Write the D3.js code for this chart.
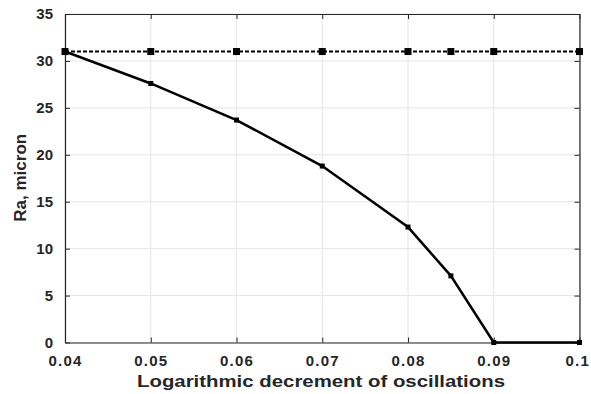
<!DOCTYPE html>
<html><head><meta charset="utf-8">
<script src="https://cdn.jsdelivr.net/npm/d3@7"></script>
<style>body{margin:0;background:#fff}svg{display:block}text{font-family:"Liberation Sans",Arial,sans-serif;font-weight:bold;fill:#262626}</style>
</head><body><svg id="c" width="591" height="394"></svg>
<script>
const xValues = [0.04, 0.05, 0.06, 0.07, 0.08, 0.085, 0.09, 0.1];
const solidSeries = [31, 27.6, 23.7, 18.8, 12.3, 7.1, 0, 0];
const dashedSeries = [31, 31, 31, 31, 31, 31, 31, 31];
const xTicks = [0.04, 0.05, 0.06, 0.07, 0.08, 0.09, 0.1];
const xTickLabels = ["0.04", "0.05", "0.06", "0.07", "0.08", "0.09", "0.1"];
const yTicks = [0, 5, 10, 15, 20, 25, 30, 35];
const xLabel = "Logarithmic decrement of oscillations";
const yLabel = "Ra, micron";

const svg = d3.select("#c");
const L = 65, R = 579.5, T = 14, B = 342.5;
const x = d3.scaleLinear().domain([0.04, 0.1]).range([L, R]);
const y = d3.scaleLinear().domain([0, 35]).range([B, T]);

// grid
svg.append("g").selectAll("line").data(xTicks).join("line")
  .attr("x1", d => x(d)).attr("x2", d => x(d)).attr("y1", T).attr("y2", B)
  .attr("stroke", "#e6e6e6").attr("stroke-width", 1);
svg.append("g").selectAll("line").data(yTicks).join("line")
  .attr("y1", d => y(d)).attr("y2", d => y(d)).attr("x1", L).attr("x2", R)
  .attr("stroke", "#e6e6e6").attr("stroke-width", 1);

// axes
const fmt = (d) => xTickLabels[xTicks.indexOf(d)];
const gx = svg.append("g").attr("transform", `translate(0,${B})`)
  .call(d3.axisBottom(x).tickValues(xTicks).tickFormat(fmt).tickSizeInner(-5).tickSizeOuter(0).tickPadding(13));
const gxt = svg.append("g").attr("transform", `translate(0,${T})`)
  .call(d3.axisTop(x).tickValues(xTicks).tickFormat("").tickSizeInner(-5).tickSizeOuter(0));
const gy = svg.append("g").attr("transform", `translate(${L},0)`)
  .call(d3.axisLeft(y).tickValues(yTicks).tickSizeInner(-5).tickSizeOuter(0).tickPadding(12));
const gyr = svg.append("g").attr("transform", `translate(${R},0)`)
  .call(d3.axisRight(y).tickValues(yTicks).tickFormat("").tickSizeInner(-5).tickSizeOuter(0));
[gx, gxt, gy, gyr].forEach(g => {
  g.select(".domain").attr("stroke", "#262626").attr("stroke-width", 1.2);
  g.selectAll(".tick line").attr("stroke", "#262626");
  g.selectAll("text").style("font-size", "15px").style("font-family", '"Liberation Sans",Arial,sans-serif').style("font-weight", "bold").attr("fill", "#262626");
});
gx.selectAll("text").style("letter-spacing", "1.2px");
gx.selectAll("text").filter(d => d === 0.1).attr("text-anchor", "end").attr("x", 10);

// labels
svg.append("text").attr("x", 321).attr("y", 387).attr("text-anchor", "middle")
  .attr("textLength", 368).attr("lengthAdjust", "spacingAndGlyphs")
  .style("font-size", "17px").text(xLabel);
svg.append("text").attr("transform", `translate(26,${(T + B) / 2 - 0.5}) rotate(-90)`).attr("text-anchor", "middle")
  .style("font-size", "17px").text(yLabel);

const line = d3.line().x((d, i) => x(xValues[i])).y(d => y(d));
// dashed
svg.append("path").datum(dashedSeries).attr("d", line).attr("fill", "none")
  .attr("stroke", "#000").attr("stroke-width", 2).attr("stroke-dasharray", "4,2");
svg.append("g").selectAll("rect").data(dashedSeries).join("rect")
  .attr("x", (d, i) => x(xValues[i]) - 3.5).attr("y", d => y(d) - 3.5)
  .attr("width", 7).attr("height", 7).attr("fill", "#000");
// solid
svg.append("path").datum(solidSeries).attr("d", line).attr("fill", "none")
  .attr("stroke", "#000").attr("stroke-width", 2.5);
svg.append("g").selectAll("rect").data(solidSeries).join("rect")
  .attr("x", (d, i) => x(xValues[i]) - 2.5).attr("y", d => y(d) - 2.5)
  .attr("width", 5).attr("height", 5).attr("fill", "#000");
</script></body></html>
